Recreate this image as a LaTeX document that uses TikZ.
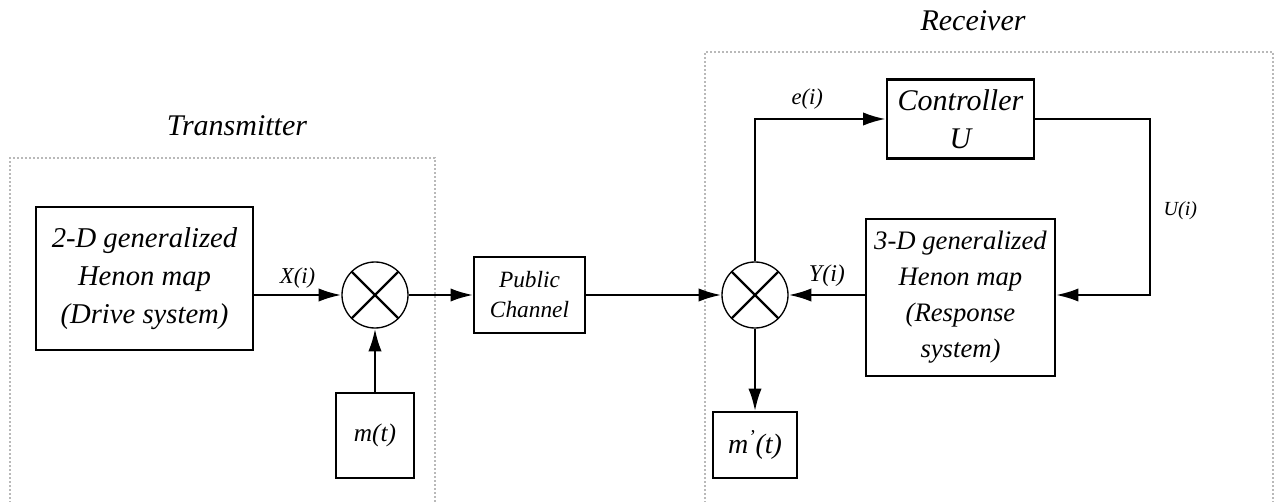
\documentclass[tikz,border=0pt]{standalone}
\usepackage{fontspec}
\setmainfont{Liberation Serif}
\usetikzlibrary{arrows.meta, positioning}
\def\pxu{0.75pt}
\tikzstyle{box}= [draw, line width=1.2pt, align=center, font=\itshape\fontsize{21.5}{28.5}\selectfont]
\tikzstyle{Box}= [box, inner sep=0pt]
\tikzstyle{mixer}= [draw, circle, line width=1pt, minimum size=66*\pxu, inner sep=0pt,
    path picture={\draw[line width=1.8pt] (path picture bounding box.north west) -- (path picture bounding box.south east)
    (path picture bounding box.north east) -- (path picture bounding box.south west);}]
\tikzstyle{zone}= [draw=gray!55, line width=0.9pt, dash pattern=on 1.5pt off 1.5pt]
\tikzstyle{sig}= [font=\itshape\fontsize{17}{19}\selectfont]

\begin{document}
\begin{tikzpicture}[x=\pxu, y=-\pxu, >={Latex[length=17pt, width=10pt]}, line width=1.9pt]
    \useasboundingbox (0,0) rectangle (1278,502);

    % Transmitter and Receiver areas
    \draw[zone] (10,503) |- (435,158) -- (435,503);
    \node[font=\itshape\fontsize{22.5}{26}\selectfont] (TxLabel) at (237,126) {Transmitter};
    \draw[zone] (705,503) |- (1273,52) -- (1273,503);
    \node[font=\itshape\fontsize{22.5}{26}\selectfont] (RxLabel) at (973,21) {Receiver};

    \node [Box, minimum width=217*\pxu, minimum height=143*\pxu] (Drive) at (144.5,278.5)
    {2-D generalized\\ Henon map\\ (Drive system)};
    \node [mixer] (MixTx) at (375,295) {};
    \node [Box, minimum width=78*\pxu, minimum height=85*\pxu, font=\itshape\fontsize{19}{21}\selectfont] (Msg) at (375,435.5) {m(t)};
    \node [Box, minimum width=111*\pxu, minimum height=76*\pxu, font=\itshape\fontsize{17.5}{22.5}\selectfont] (Channel) at (529.5,295) {Public\\ Channel};
    \node [mixer] (MixRx) at (755,295) {};
    \node [Box, minimum width=84*\pxu, minimum height=66*\pxu, font=\itshape\fontsize{21}{23}\selectfont] (MsgOut) at (755,445)
    {m\textsuperscript{'}(t)};
    \node [Box, minimum width=147*\pxu, minimum height=79*\pxu, line width=1.9pt, font=\itshape\fontsize{22.5}{28.5}\selectfont] (Controller) at (960.5,119)
    {Controller\\ U};
    \node [Box, minimum width=189*\pxu, minimum height=157*\pxu, font=\itshape\fontsize{20}{27}\selectfont] (Response) at (960.5,297.5)
    {3-D generalized\\ Henon map\\ (Response\\ system)};

    % transmitter path
    \draw[->] (Drive.east |- MixTx.west) -- (MixTx.west) node[sig, midway, above=1pt] {X(i)};
    \draw[->] (Msg.north) -- (MixTx.south);
    \draw[->] (MixTx.east) -- (Channel.west);
    \draw[->] (Channel.east) -- (MixRx.west);

    % receiver loop
    \draw[->] (MixRx.north) |- (Controller.west) node[sig, pos=0.7, above=3pt] {e(i)};
    \coordinate (Uturn) at (1150,295);
    \draw[->] (Controller.east) -| (Uturn) node[sig, pos=0.76, right=6pt, font=\itshape\fontsize{15}{17}\selectfont] {U(i)} -- (Response.east |- Uturn);
    \draw[->] (Response.west |- MixRx.east) -- (MixRx.east) node[sig, midway, above=2pt, font=\itshape\fontsize{18}{20}\selectfont] {Y(i)};
    \draw[->] (MixRx.south) -- (MsgOut.north);

\end{tikzpicture}
\end{document}
